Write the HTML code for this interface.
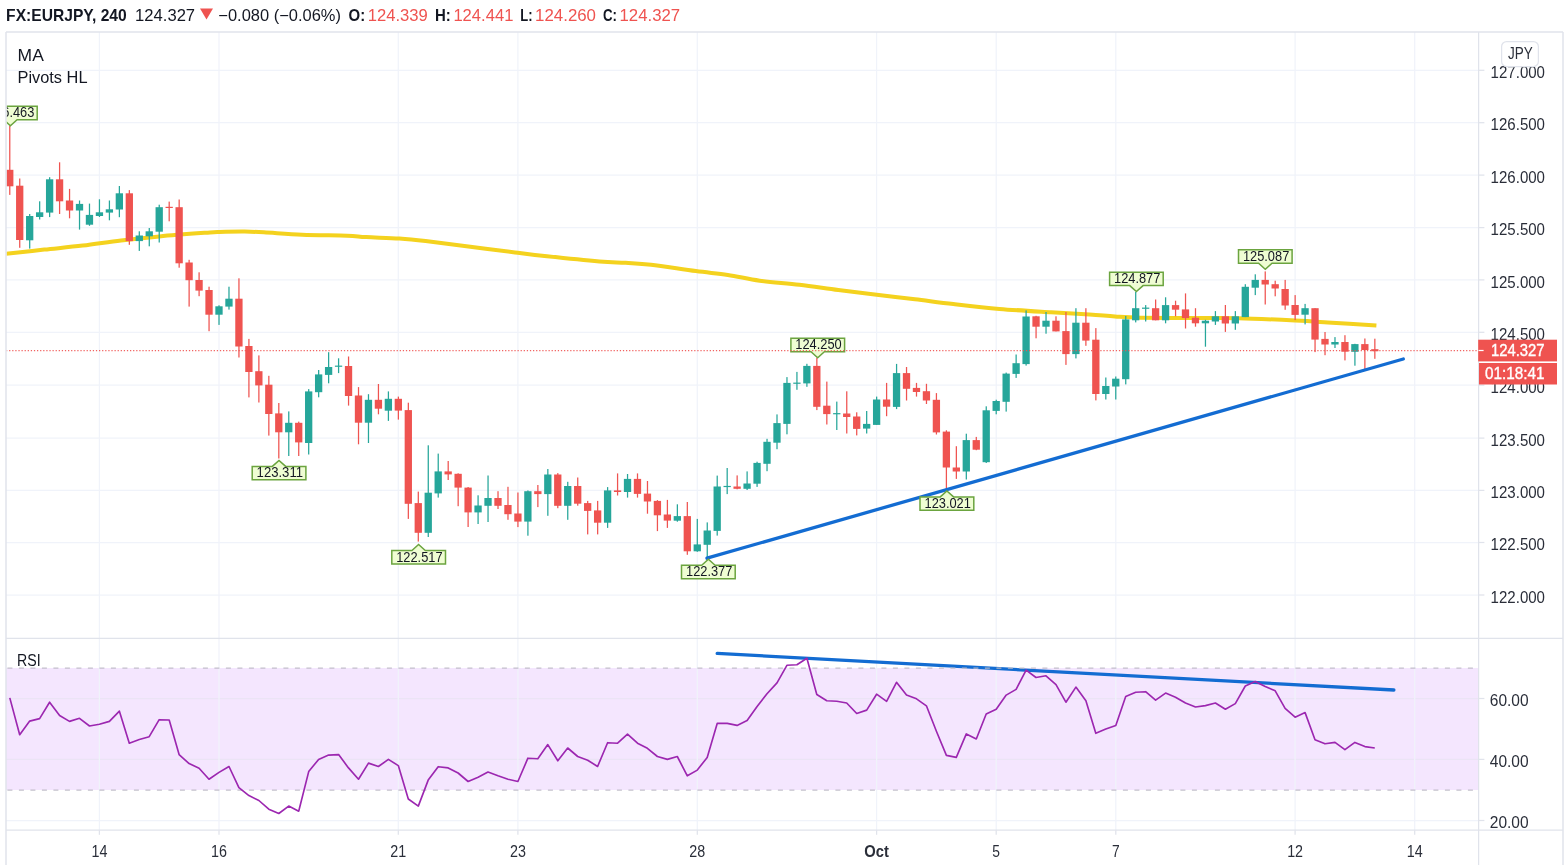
<!DOCTYPE html><html><head><meta charset="utf-8"><title>FX:EURJPY</title><style>html,body{margin:0;padding:0;background:#fff;width:1565px;height:865px;overflow:hidden;}body{position:relative;font-family:"Liberation Sans",sans-serif;}</style></head><body><svg width="1565" height="865" viewBox="0 0 1565 865" style="position:absolute;left:0;top:0;will-change:transform">
<defs><clipPath id="mp"><rect x="6.5" y="32.5" width="1471.6" height="605.4"/></clipPath><clipPath id="rp"><rect x="6.5" y="639" width="1471.6" height="191"/></clipPath></defs>
<rect x="6" y="668" width="1472.6" height="122" fill="#f4e6fe"/>
<line x1="6" y1="70.3" x2="1478.6" y2="70.3" stroke="#f0f3fa" stroke-width="1.25"/>
<line x1="6" y1="122.7" x2="1478.6" y2="122.7" stroke="#f0f3fa" stroke-width="1.25"/>
<line x1="6" y1="175.1" x2="1478.6" y2="175.1" stroke="#f0f3fa" stroke-width="1.25"/>
<line x1="6" y1="227.6" x2="1478.6" y2="227.6" stroke="#f0f3fa" stroke-width="1.25"/>
<line x1="6" y1="279.9" x2="1478.6" y2="279.9" stroke="#f0f3fa" stroke-width="1.25"/>
<line x1="6" y1="332.3" x2="1478.6" y2="332.3" stroke="#f0f3fa" stroke-width="1.25"/>
<line x1="6" y1="385.2" x2="1478.6" y2="385.2" stroke="#f0f3fa" stroke-width="1.25"/>
<line x1="6" y1="438.1" x2="1478.6" y2="438.1" stroke="#f0f3fa" stroke-width="1.25"/>
<line x1="6" y1="490.4" x2="1478.6" y2="490.4" stroke="#f0f3fa" stroke-width="1.25"/>
<line x1="6" y1="542.5" x2="1478.6" y2="542.5" stroke="#f0f3fa" stroke-width="1.25"/>
<line x1="6" y1="595.0" x2="1478.6" y2="595.0" stroke="#f0f3fa" stroke-width="1.25"/>
<line x1="6" y1="698.5" x2="1478.6" y2="698.5" stroke="#ebe4f5" stroke-width="1.25"/>
<line x1="6" y1="759.4" x2="1478.6" y2="759.4" stroke="#ebe4f5" stroke-width="1.25"/>
<line x1="6" y1="820.5" x2="1478.6" y2="820.5" stroke="#f0f3fa" stroke-width="1.25"/>
<line x1="99.4" y1="32" x2="99.4" y2="830.2" stroke="#f0f3fa" stroke-width="1.25"/>
<line x1="99.4" y1="830.2" x2="99.4" y2="834.8" stroke="#e0e3eb" stroke-width="1.25"/>
<line x1="219.0" y1="32" x2="219.0" y2="830.2" stroke="#f0f3fa" stroke-width="1.25"/>
<line x1="219.0" y1="830.2" x2="219.0" y2="834.8" stroke="#e0e3eb" stroke-width="1.25"/>
<line x1="398.3" y1="32" x2="398.3" y2="830.2" stroke="#f0f3fa" stroke-width="1.25"/>
<line x1="398.3" y1="830.2" x2="398.3" y2="834.8" stroke="#e0e3eb" stroke-width="1.25"/>
<line x1="517.9" y1="32" x2="517.9" y2="830.2" stroke="#f0f3fa" stroke-width="1.25"/>
<line x1="517.9" y1="830.2" x2="517.9" y2="834.8" stroke="#e0e3eb" stroke-width="1.25"/>
<line x1="697.3" y1="32" x2="697.3" y2="830.2" stroke="#f0f3fa" stroke-width="1.25"/>
<line x1="697.3" y1="830.2" x2="697.3" y2="834.8" stroke="#e0e3eb" stroke-width="1.25"/>
<line x1="876.6" y1="32" x2="876.6" y2="830.2" stroke="#f0f3fa" stroke-width="1.25"/>
<line x1="876.6" y1="830.2" x2="876.6" y2="834.8" stroke="#e0e3eb" stroke-width="1.25"/>
<line x1="996.2" y1="32" x2="996.2" y2="830.2" stroke="#f0f3fa" stroke-width="1.25"/>
<line x1="996.2" y1="830.2" x2="996.2" y2="834.8" stroke="#e0e3eb" stroke-width="1.25"/>
<line x1="1115.8" y1="32" x2="1115.8" y2="830.2" stroke="#f0f3fa" stroke-width="1.25"/>
<line x1="1115.8" y1="830.2" x2="1115.8" y2="834.8" stroke="#e0e3eb" stroke-width="1.25"/>
<line x1="1295.1" y1="32" x2="1295.1" y2="830.2" stroke="#f0f3fa" stroke-width="1.25"/>
<line x1="1295.1" y1="830.2" x2="1295.1" y2="834.8" stroke="#e0e3eb" stroke-width="1.25"/>
<line x1="1414.7" y1="32" x2="1414.7" y2="830.2" stroke="#f0f3fa" stroke-width="1.25"/>
<line x1="1414.7" y1="830.2" x2="1414.7" y2="834.8" stroke="#e0e3eb" stroke-width="1.25"/>
<g clip-path="url(#mp)">
<path d="M6.00,253.80 C6.43,253.75 2.22,254.20 8.60,253.50 C14.98,252.80 31.95,250.92 44.30,249.60 C56.65,248.28 69.92,247.13 82.70,245.60 C95.48,244.07 108.22,241.93 121.00,240.40 C133.78,238.87 145.33,237.67 159.40,236.40 C173.47,235.13 195.43,233.53 205.40,232.80 C215.37,232.07 212.65,232.20 219.20,232.00 C225.75,231.80 237.25,231.55 244.70,231.60 C252.15,231.65 254.32,231.77 263.90,232.30 C273.48,232.83 288.35,234.23 302.20,234.80 C316.05,235.37 336.35,235.32 347.00,235.70 C357.65,236.08 357.37,236.63 366.10,237.10 C374.83,237.57 389.48,237.85 399.40,238.50 C409.32,239.15 413.78,239.63 425.60,241.00 C437.42,242.37 455.40,244.78 470.30,246.70 C485.20,248.62 502.22,250.90 515.00,252.50 C527.78,254.10 532.93,254.82 547.00,256.30 C561.07,257.78 586.30,260.32 599.40,261.40 C612.50,262.48 616.98,262.25 625.60,262.80 C634.22,263.35 639.40,263.32 651.10,264.70 C662.80,266.08 683.02,269.40 695.80,271.10 C708.58,272.80 717.15,273.30 727.80,274.90 C738.45,276.50 747.77,279.05 759.70,280.70 C771.63,282.35 786.30,283.23 799.40,284.80 C812.50,286.37 825.42,288.43 838.30,290.10 C851.18,291.77 863.92,293.27 876.70,294.80 C889.48,296.33 902.22,297.75 915.00,299.30 C927.78,300.85 939.33,302.50 953.40,304.10 C967.47,305.70 983.12,307.53 999.40,308.90 C1015.68,310.27 1036.08,311.38 1051.10,312.30 C1066.12,313.22 1078.85,313.70 1089.50,314.40 C1100.15,315.10 1106.48,315.95 1115.00,316.50 C1123.52,317.05 1126.53,317.45 1140.60,317.70 C1154.67,317.95 1183.12,317.92 1199.40,318.00 C1215.68,318.08 1222.37,317.78 1238.30,318.20 C1254.23,318.62 1280.08,319.80 1295.00,320.50 C1309.92,321.20 1314.23,321.55 1327.80,322.40 C1341.37,323.25 1368.30,325.07 1376.40,325.60" fill="none" stroke="#f4d21e" stroke-width="4" stroke-linejoin="round" stroke-linecap="butt"/>
<rect x="9.15" y="125.6" width="1.25" height="69.3" fill="#ef5350"/>
<rect x="6.10" y="169.8" width="7.3" height="16.5" fill="#ef5350"/>
<rect x="19.11" y="178.5" width="1.25" height="69.3" fill="#ef5350"/>
<rect x="16.06" y="185.7" width="7.3" height="54.3" fill="#ef5350"/>
<rect x="29.08" y="214.0" width="1.25" height="34.6" fill="#26a69a"/>
<rect x="26.03" y="216.0" width="7.3" height="24.3" fill="#26a69a"/>
<rect x="39.04" y="201.3" width="1.25" height="18.2" fill="#26a69a"/>
<rect x="35.99" y="212.3" width="7.3" height="4.7" fill="#26a69a"/>
<rect x="49.01" y="177.2" width="1.25" height="39.9" fill="#26a69a"/>
<rect x="45.96" y="179.3" width="7.3" height="33.3" fill="#26a69a"/>
<rect x="58.97" y="162.3" width="1.25" height="51.7" fill="#ef5350"/>
<rect x="55.92" y="179.3" width="7.3" height="22.0" fill="#ef5350"/>
<rect x="68.93" y="188.9" width="1.25" height="29.4" fill="#ef5350"/>
<rect x="65.88" y="200.5" width="7.3" height="10.0" fill="#ef5350"/>
<rect x="78.90" y="200.5" width="1.25" height="29.1" fill="#26a69a"/>
<rect x="75.85" y="203.9" width="7.3" height="6.6" fill="#26a69a"/>
<rect x="88.86" y="203.6" width="1.25" height="22.2" fill="#26a69a"/>
<rect x="85.81" y="214.9" width="7.3" height="9.8" fill="#26a69a"/>
<rect x="98.83" y="199.3" width="1.25" height="17.7" fill="#26a69a"/>
<rect x="95.78" y="212.3" width="7.3" height="3.7" fill="#26a69a"/>
<rect x="108.79" y="200.5" width="1.25" height="19.8" fill="#26a69a"/>
<rect x="105.74" y="209.3" width="7.3" height="3.3" fill="#26a69a"/>
<rect x="118.75" y="186.0" width="1.25" height="31.2" fill="#26a69a"/>
<rect x="115.70" y="193.3" width="7.3" height="16.2" fill="#26a69a"/>
<rect x="128.72" y="190.1" width="1.25" height="54.7" fill="#ef5350"/>
<rect x="125.67" y="193.3" width="7.3" height="47.8" fill="#ef5350"/>
<rect x="138.68" y="231.3" width="1.25" height="19.6" fill="#26a69a"/>
<rect x="135.63" y="235.5" width="7.3" height="5.6" fill="#26a69a"/>
<rect x="148.65" y="228.0" width="1.25" height="18.3" fill="#26a69a"/>
<rect x="145.60" y="231.3" width="7.3" height="5.0" fill="#26a69a"/>
<rect x="158.61" y="204.7" width="1.25" height="37.8" fill="#26a69a"/>
<rect x="155.56" y="207.2" width="7.3" height="24.5" fill="#26a69a"/>
<rect x="168.57" y="201.6" width="1.25" height="19.7" fill="#ef5350"/>
<rect x="165.52" y="206.8" width="7.3" height="1.2" fill="#ef5350"/>
<rect x="178.54" y="199.5" width="1.25" height="68.2" fill="#ef5350"/>
<rect x="175.49" y="207.2" width="7.3" height="56.1" fill="#ef5350"/>
<rect x="188.50" y="259.8" width="1.25" height="46.8" fill="#ef5350"/>
<rect x="185.45" y="262.5" width="7.3" height="17.7" fill="#ef5350"/>
<rect x="198.47" y="272.3" width="1.25" height="23.9" fill="#ef5350"/>
<rect x="195.42" y="280.0" width="7.3" height="10.6" fill="#ef5350"/>
<rect x="208.43" y="286.7" width="1.25" height="44.5" fill="#ef5350"/>
<rect x="205.38" y="290.0" width="7.3" height="24.7" fill="#ef5350"/>
<rect x="218.39" y="305.3" width="1.25" height="19.6" fill="#26a69a"/>
<rect x="215.34" y="306.3" width="7.3" height="8.4" fill="#26a69a"/>
<rect x="228.36" y="286.7" width="1.25" height="22.9" fill="#26a69a"/>
<rect x="225.31" y="298.7" width="7.3" height="7.9" fill="#26a69a"/>
<rect x="238.32" y="278.3" width="1.25" height="79.2" fill="#ef5350"/>
<rect x="235.27" y="298.7" width="7.3" height="47.8" fill="#ef5350"/>
<rect x="248.29" y="338.9" width="1.25" height="58.5" fill="#ef5350"/>
<rect x="245.24" y="346.0" width="7.3" height="26.0" fill="#ef5350"/>
<rect x="258.25" y="355.4" width="1.25" height="47.1" fill="#ef5350"/>
<rect x="255.20" y="371.2" width="7.3" height="14.2" fill="#ef5350"/>
<rect x="268.21" y="375.8" width="1.25" height="59.8" fill="#ef5350"/>
<rect x="265.16" y="384.7" width="7.3" height="29.3" fill="#ef5350"/>
<rect x="278.18" y="403.0" width="1.25" height="55.5" fill="#ef5350"/>
<rect x="275.13" y="413.4" width="7.3" height="18.9" fill="#ef5350"/>
<rect x="288.14" y="411.4" width="1.25" height="44.6" fill="#26a69a"/>
<rect x="285.09" y="422.8" width="7.3" height="9.5" fill="#26a69a"/>
<rect x="298.11" y="421.6" width="1.25" height="34.4" fill="#ef5350"/>
<rect x="295.06" y="422.8" width="7.3" height="19.6" fill="#ef5350"/>
<rect x="308.07" y="389.1" width="1.25" height="65.4" fill="#26a69a"/>
<rect x="305.02" y="391.4" width="7.3" height="51.6" fill="#26a69a"/>
<rect x="318.03" y="370.0" width="1.25" height="27.3" fill="#26a69a"/>
<rect x="314.98" y="374.4" width="7.3" height="17.8" fill="#26a69a"/>
<rect x="328.00" y="352.2" width="1.25" height="31.1" fill="#26a69a"/>
<rect x="324.95" y="367.0" width="7.3" height="7.9" fill="#26a69a"/>
<rect x="337.96" y="358.3" width="1.25" height="14.8" fill="#26a69a"/>
<rect x="334.91" y="365.6" width="7.3" height="1.2" fill="#26a69a"/>
<rect x="347.93" y="356.5" width="1.25" height="49.1" fill="#ef5350"/>
<rect x="344.88" y="366.0" width="7.3" height="30.0" fill="#ef5350"/>
<rect x="357.89" y="387.1" width="1.25" height="57.2" fill="#ef5350"/>
<rect x="354.84" y="395.5" width="7.3" height="27.2" fill="#ef5350"/>
<rect x="367.85" y="394.2" width="1.25" height="48.8" fill="#26a69a"/>
<rect x="364.80" y="399.8" width="7.3" height="22.9" fill="#26a69a"/>
<rect x="377.82" y="384.0" width="1.25" height="30.3" fill="#ef5350"/>
<rect x="374.77" y="399.8" width="7.3" height="8.9" fill="#ef5350"/>
<rect x="387.78" y="391.4" width="1.25" height="29.5" fill="#26a69a"/>
<rect x="384.73" y="398.8" width="7.3" height="11.9" fill="#26a69a"/>
<rect x="397.75" y="396.6" width="1.25" height="23.0" fill="#ef5350"/>
<rect x="394.70" y="398.8" width="7.3" height="11.8" fill="#ef5350"/>
<rect x="407.71" y="402.7" width="1.25" height="116.2" fill="#ef5350"/>
<rect x="404.66" y="410.1" width="7.3" height="93.7" fill="#ef5350"/>
<rect x="417.67" y="491.6" width="1.25" height="50.0" fill="#ef5350"/>
<rect x="414.62" y="503.1" width="7.3" height="29.7" fill="#ef5350"/>
<rect x="427.64" y="445.3" width="1.25" height="91.7" fill="#26a69a"/>
<rect x="424.59" y="492.7" width="7.3" height="40.1" fill="#26a69a"/>
<rect x="437.60" y="453.6" width="1.25" height="44.0" fill="#26a69a"/>
<rect x="434.55" y="471.4" width="7.3" height="22.0" fill="#26a69a"/>
<rect x="447.57" y="461.0" width="1.25" height="19.0" fill="#ef5350"/>
<rect x="444.52" y="471.4" width="7.3" height="3.0" fill="#ef5350"/>
<rect x="457.53" y="473.3" width="1.25" height="32.9" fill="#ef5350"/>
<rect x="454.48" y="473.8" width="7.3" height="13.8" fill="#ef5350"/>
<rect x="467.49" y="487.0" width="1.25" height="40.0" fill="#ef5350"/>
<rect x="464.44" y="487.6" width="7.3" height="24.8" fill="#ef5350"/>
<rect x="477.46" y="495.3" width="1.25" height="28.7" fill="#26a69a"/>
<rect x="474.41" y="505.5" width="7.3" height="6.9" fill="#26a69a"/>
<rect x="487.42" y="475.5" width="1.25" height="46.5" fill="#26a69a"/>
<rect x="484.37" y="498.0" width="7.3" height="7.8" fill="#26a69a"/>
<rect x="497.39" y="491.2" width="1.25" height="17.8" fill="#ef5350"/>
<rect x="494.34" y="498.0" width="7.3" height="7.8" fill="#ef5350"/>
<rect x="507.35" y="486.8" width="1.25" height="33.0" fill="#ef5350"/>
<rect x="504.30" y="505.0" width="7.3" height="9.2" fill="#ef5350"/>
<rect x="517.31" y="492.5" width="1.25" height="34.6" fill="#ef5350"/>
<rect x="514.26" y="513.5" width="7.3" height="8.1" fill="#ef5350"/>
<rect x="527.28" y="490.4" width="1.25" height="45.3" fill="#26a69a"/>
<rect x="524.23" y="491.2" width="7.3" height="30.4" fill="#26a69a"/>
<rect x="537.24" y="485.0" width="1.25" height="22.1" fill="#ef5350"/>
<rect x="534.19" y="491.2" width="7.3" height="2.9" fill="#ef5350"/>
<rect x="547.21" y="469.0" width="1.25" height="46.8" fill="#26a69a"/>
<rect x="544.16" y="474.5" width="7.3" height="19.6" fill="#26a69a"/>
<rect x="557.17" y="473.1" width="1.25" height="35.1" fill="#ef5350"/>
<rect x="554.12" y="474.5" width="7.3" height="31.3" fill="#ef5350"/>
<rect x="567.13" y="481.8" width="1.25" height="38.0" fill="#26a69a"/>
<rect x="564.08" y="486.0" width="7.3" height="19.8" fill="#26a69a"/>
<rect x="577.10" y="477.5" width="1.25" height="28.2" fill="#ef5350"/>
<rect x="574.05" y="486.0" width="7.3" height="17.7" fill="#ef5350"/>
<rect x="587.06" y="500.9" width="1.25" height="33.5" fill="#ef5350"/>
<rect x="584.01" y="503.1" width="7.3" height="7.8" fill="#ef5350"/>
<rect x="597.03" y="500.9" width="1.25" height="33.5" fill="#ef5350"/>
<rect x="593.98" y="510.4" width="7.3" height="12.3" fill="#ef5350"/>
<rect x="606.99" y="487.1" width="1.25" height="40.8" fill="#26a69a"/>
<rect x="603.94" y="490.4" width="7.3" height="32.3" fill="#26a69a"/>
<rect x="616.95" y="473.4" width="1.25" height="22.1" fill="#ef5350"/>
<rect x="613.90" y="490.4" width="7.3" height="1.6" fill="#ef5350"/>
<rect x="626.92" y="474.0" width="1.25" height="23.6" fill="#26a69a"/>
<rect x="623.87" y="478.9" width="7.3" height="13.1" fill="#26a69a"/>
<rect x="636.88" y="473.4" width="1.25" height="24.2" fill="#ef5350"/>
<rect x="633.83" y="478.9" width="7.3" height="15.0" fill="#ef5350"/>
<rect x="646.85" y="481.0" width="1.25" height="32.7" fill="#ef5350"/>
<rect x="643.80" y="493.6" width="7.3" height="7.9" fill="#ef5350"/>
<rect x="656.81" y="500.1" width="1.25" height="31.0" fill="#ef5350"/>
<rect x="653.76" y="500.9" width="7.3" height="14.4" fill="#ef5350"/>
<rect x="666.77" y="499.9" width="1.25" height="28.0" fill="#ef5350"/>
<rect x="663.72" y="514.5" width="7.3" height="6.1" fill="#ef5350"/>
<rect x="676.74" y="504.3" width="1.25" height="17.4" fill="#26a69a"/>
<rect x="673.69" y="516.1" width="7.3" height="4.6" fill="#26a69a"/>
<rect x="686.70" y="502.0" width="1.25" height="52.8" fill="#ef5350"/>
<rect x="683.65" y="516.1" width="7.3" height="35.2" fill="#ef5350"/>
<rect x="696.67" y="518.9" width="1.25" height="32.9" fill="#26a69a"/>
<rect x="693.62" y="544.4" width="7.3" height="6.9" fill="#26a69a"/>
<rect x="706.63" y="522.4" width="1.25" height="36.6" fill="#26a69a"/>
<rect x="703.58" y="530.5" width="7.3" height="14.3" fill="#26a69a"/>
<rect x="716.59" y="475.6" width="1.25" height="60.0" fill="#26a69a"/>
<rect x="713.54" y="486.5" width="7.3" height="44.4" fill="#26a69a"/>
<rect x="726.56" y="468.0" width="1.25" height="26.1" fill="#26a69a"/>
<rect x="723.51" y="485.9" width="7.3" height="1.2" fill="#26a69a"/>
<rect x="736.52" y="475.4" width="1.25" height="13.9" fill="#ef5350"/>
<rect x="733.47" y="486.5" width="7.3" height="2.3" fill="#ef5350"/>
<rect x="746.49" y="471.4" width="1.25" height="18.6" fill="#26a69a"/>
<rect x="743.44" y="483.5" width="7.3" height="5.3" fill="#26a69a"/>
<rect x="756.45" y="461.7" width="1.25" height="25.2" fill="#26a69a"/>
<rect x="753.40" y="462.9" width="7.3" height="20.8" fill="#26a69a"/>
<rect x="766.41" y="438.8" width="1.25" height="32.4" fill="#26a69a"/>
<rect x="763.36" y="441.8" width="7.3" height="22.0" fill="#26a69a"/>
<rect x="776.38" y="414.4" width="1.25" height="34.8" fill="#26a69a"/>
<rect x="773.33" y="423.1" width="7.3" height="19.6" fill="#26a69a"/>
<rect x="786.34" y="377.1" width="1.25" height="57.2" fill="#26a69a"/>
<rect x="783.29" y="382.9" width="7.3" height="41.0" fill="#26a69a"/>
<rect x="796.31" y="371.9" width="1.25" height="17.9" fill="#26a69a"/>
<rect x="793.26" y="382.6" width="7.3" height="1.2" fill="#26a69a"/>
<rect x="806.27" y="363.8" width="1.25" height="23.0" fill="#26a69a"/>
<rect x="803.22" y="365.9" width="7.3" height="17.5" fill="#26a69a"/>
<rect x="816.23" y="357.7" width="1.25" height="52.4" fill="#ef5350"/>
<rect x="813.18" y="365.9" width="7.3" height="40.9" fill="#ef5350"/>
<rect x="826.20" y="381.6" width="1.25" height="42.9" fill="#ef5350"/>
<rect x="823.15" y="405.7" width="7.3" height="8.4" fill="#ef5350"/>
<rect x="836.16" y="401.6" width="1.25" height="28.4" fill="#26a69a"/>
<rect x="833.11" y="413.1" width="7.3" height="1.2" fill="#26a69a"/>
<rect x="846.13" y="391.3" width="1.25" height="42.2" fill="#ef5350"/>
<rect x="843.08" y="413.5" width="7.3" height="3.5" fill="#ef5350"/>
<rect x="856.09" y="412.3" width="1.25" height="23.1" fill="#ef5350"/>
<rect x="853.04" y="416.5" width="7.3" height="12.4" fill="#ef5350"/>
<rect x="866.05" y="411.0" width="1.25" height="22.5" fill="#26a69a"/>
<rect x="863.00" y="423.9" width="7.3" height="4.7" fill="#26a69a"/>
<rect x="876.02" y="396.6" width="1.25" height="28.3" fill="#26a69a"/>
<rect x="872.97" y="399.5" width="7.3" height="25.4" fill="#26a69a"/>
<rect x="885.98" y="382.9" width="1.25" height="33.3" fill="#ef5350"/>
<rect x="882.93" y="399.5" width="7.3" height="7.2" fill="#ef5350"/>
<rect x="895.95" y="363.9" width="1.25" height="45.2" fill="#26a69a"/>
<rect x="892.90" y="373.1" width="7.3" height="33.8" fill="#26a69a"/>
<rect x="905.91" y="367.0" width="1.25" height="33.5" fill="#ef5350"/>
<rect x="902.86" y="373.1" width="7.3" height="15.7" fill="#ef5350"/>
<rect x="915.87" y="382.9" width="1.25" height="13.7" fill="#ef5350"/>
<rect x="912.82" y="387.9" width="7.3" height="4.1" fill="#ef5350"/>
<rect x="925.84" y="383.8" width="1.25" height="20.2" fill="#ef5350"/>
<rect x="922.79" y="391.2" width="7.3" height="9.3" fill="#ef5350"/>
<rect x="935.80" y="393.1" width="1.25" height="41.4" fill="#ef5350"/>
<rect x="932.75" y="399.8" width="7.3" height="32.6" fill="#ef5350"/>
<rect x="945.77" y="430.3" width="1.25" height="58.7" fill="#ef5350"/>
<rect x="942.72" y="431.6" width="7.3" height="35.9" fill="#ef5350"/>
<rect x="955.73" y="446.2" width="1.25" height="32.7" fill="#ef5350"/>
<rect x="952.68" y="467.5" width="7.3" height="4.0" fill="#ef5350"/>
<rect x="965.69" y="433.7" width="1.25" height="45.8" fill="#26a69a"/>
<rect x="962.64" y="440.1" width="7.3" height="31.4" fill="#26a69a"/>
<rect x="975.66" y="436.9" width="1.25" height="13.3" fill="#ef5350"/>
<rect x="972.61" y="440.1" width="7.3" height="9.6" fill="#ef5350"/>
<rect x="985.62" y="406.3" width="1.25" height="56.7" fill="#26a69a"/>
<rect x="982.57" y="410.3" width="7.3" height="51.9" fill="#26a69a"/>
<rect x="995.59" y="399.7" width="1.25" height="14.6" fill="#26a69a"/>
<rect x="992.54" y="401.0" width="7.3" height="9.9" fill="#26a69a"/>
<rect x="1005.55" y="372.6" width="1.25" height="39.0" fill="#26a69a"/>
<rect x="1002.50" y="373.6" width="7.3" height="28.2" fill="#26a69a"/>
<rect x="1015.51" y="354.5" width="1.25" height="23.4" fill="#26a69a"/>
<rect x="1012.46" y="363.2" width="7.3" height="10.7" fill="#26a69a"/>
<rect x="1025.48" y="310.4" width="1.25" height="55.2" fill="#26a69a"/>
<rect x="1022.43" y="316.5" width="7.3" height="47.6" fill="#26a69a"/>
<rect x="1035.44" y="315.8" width="1.25" height="22.5" fill="#ef5350"/>
<rect x="1032.39" y="316.3" width="7.3" height="10.4" fill="#ef5350"/>
<rect x="1045.41" y="312.0" width="1.25" height="21.7" fill="#26a69a"/>
<rect x="1042.36" y="320.7" width="7.3" height="6.0" fill="#26a69a"/>
<rect x="1055.37" y="316.3" width="1.25" height="15.1" fill="#ef5350"/>
<rect x="1052.32" y="320.7" width="7.3" height="10.7" fill="#ef5350"/>
<rect x="1065.33" y="312.0" width="1.25" height="52.9" fill="#ef5350"/>
<rect x="1062.28" y="331.1" width="7.3" height="23.0" fill="#ef5350"/>
<rect x="1075.30" y="308.2" width="1.25" height="50.2" fill="#26a69a"/>
<rect x="1072.25" y="322.7" width="7.3" height="31.4" fill="#26a69a"/>
<rect x="1085.26" y="308.2" width="1.25" height="37.6" fill="#ef5350"/>
<rect x="1082.21" y="322.7" width="7.3" height="17.9" fill="#ef5350"/>
<rect x="1095.23" y="328.1" width="1.25" height="72.3" fill="#ef5350"/>
<rect x="1092.18" y="339.7" width="7.3" height="54.3" fill="#ef5350"/>
<rect x="1105.19" y="377.5" width="1.25" height="22.0" fill="#26a69a"/>
<rect x="1102.14" y="386.0" width="7.3" height="8.0" fill="#26a69a"/>
<rect x="1115.15" y="376.5" width="1.25" height="23.0" fill="#26a69a"/>
<rect x="1112.10" y="378.7" width="7.3" height="7.8" fill="#26a69a"/>
<rect x="1125.12" y="316.0" width="1.25" height="68.4" fill="#26a69a"/>
<rect x="1122.07" y="319.4" width="7.3" height="59.8" fill="#26a69a"/>
<rect x="1135.08" y="292.0" width="1.25" height="30.4" fill="#26a69a"/>
<rect x="1132.03" y="308.2" width="7.3" height="12.1" fill="#26a69a"/>
<rect x="1145.05" y="305.1" width="1.25" height="16.4" fill="#26a69a"/>
<rect x="1142.00" y="307.6" width="7.3" height="1.2" fill="#26a69a"/>
<rect x="1155.01" y="299.5" width="1.25" height="20.8" fill="#ef5350"/>
<rect x="1151.96" y="308.2" width="7.3" height="12.1" fill="#ef5350"/>
<rect x="1164.97" y="297.3" width="1.25" height="26.0" fill="#26a69a"/>
<rect x="1161.92" y="305.1" width="7.3" height="15.2" fill="#26a69a"/>
<rect x="1174.94" y="300.7" width="1.25" height="15.6" fill="#ef5350"/>
<rect x="1171.89" y="305.1" width="7.3" height="4.6" fill="#ef5350"/>
<rect x="1184.90" y="293.4" width="1.25" height="35.1" fill="#ef5350"/>
<rect x="1181.85" y="309.4" width="7.3" height="8.7" fill="#ef5350"/>
<rect x="1194.87" y="308.2" width="1.25" height="18.5" fill="#ef5350"/>
<rect x="1191.82" y="317.7" width="7.3" height="5.6" fill="#ef5350"/>
<rect x="1204.83" y="319.8" width="1.25" height="26.9" fill="#26a69a"/>
<rect x="1201.78" y="320.7" width="7.3" height="2.6" fill="#26a69a"/>
<rect x="1214.79" y="311.1" width="1.25" height="13.8" fill="#26a69a"/>
<rect x="1211.74" y="316.3" width="7.3" height="5.2" fill="#26a69a"/>
<rect x="1224.76" y="305.0" width="1.25" height="26.9" fill="#ef5350"/>
<rect x="1221.71" y="316.3" width="7.3" height="7.2" fill="#ef5350"/>
<rect x="1234.72" y="311.1" width="1.25" height="18.7" fill="#26a69a"/>
<rect x="1231.67" y="316.3" width="7.3" height="7.2" fill="#26a69a"/>
<rect x="1244.69" y="284.2" width="1.25" height="32.9" fill="#26a69a"/>
<rect x="1241.64" y="286.8" width="7.3" height="30.3" fill="#26a69a"/>
<rect x="1254.65" y="274.3" width="1.25" height="20.8" fill="#26a69a"/>
<rect x="1251.60" y="279.9" width="7.3" height="7.8" fill="#26a69a"/>
<rect x="1264.61" y="271.4" width="1.25" height="33.1" fill="#ef5350"/>
<rect x="1261.56" y="279.9" width="7.3" height="4.6" fill="#ef5350"/>
<rect x="1274.58" y="280.7" width="1.25" height="15.6" fill="#ef5350"/>
<rect x="1271.53" y="284.2" width="7.3" height="4.3" fill="#ef5350"/>
<rect x="1284.54" y="279.9" width="1.25" height="29.9" fill="#ef5350"/>
<rect x="1281.49" y="289.0" width="7.3" height="16.5" fill="#ef5350"/>
<rect x="1294.51" y="295.1" width="1.25" height="25.0" fill="#ef5350"/>
<rect x="1291.46" y="305.0" width="7.3" height="9.9" fill="#ef5350"/>
<rect x="1304.47" y="303.9" width="1.25" height="20.5" fill="#26a69a"/>
<rect x="1301.42" y="308.2" width="7.3" height="6.5" fill="#26a69a"/>
<rect x="1314.43" y="308.2" width="1.25" height="43.9" fill="#ef5350"/>
<rect x="1311.38" y="308.2" width="7.3" height="31.4" fill="#ef5350"/>
<rect x="1324.40" y="332.0" width="1.25" height="23.2" fill="#ef5350"/>
<rect x="1321.35" y="338.9" width="7.3" height="5.6" fill="#ef5350"/>
<rect x="1334.36" y="337.1" width="1.25" height="10.9" fill="#26a69a"/>
<rect x="1331.31" y="342.0" width="7.3" height="2.5" fill="#26a69a"/>
<rect x="1344.33" y="335.2" width="1.25" height="25.2" fill="#ef5350"/>
<rect x="1341.28" y="342.0" width="7.3" height="9.7" fill="#ef5350"/>
<rect x="1354.29" y="343.8" width="1.25" height="21.9" fill="#26a69a"/>
<rect x="1351.24" y="344.1" width="7.3" height="7.7" fill="#26a69a"/>
<rect x="1364.25" y="338.5" width="1.25" height="31.0" fill="#ef5350"/>
<rect x="1361.20" y="344.1" width="7.3" height="5.9" fill="#ef5350"/>
<rect x="1374.22" y="338.7" width="1.25" height="20.1" fill="#ef5350"/>
<rect x="1371.17" y="349.2" width="7.3" height="2.0" fill="#ef5350"/>
<line x1="707" y1="558.2" x2="1403.3" y2="359.0" stroke="#136cd2" stroke-width="3.3" stroke-linecap="round"/>
<path d="M-16.5,106.3 H37.2 V119.7 H17.1 L10.4,125.7 L3.7,119.7 H-16.5 Z" fill="#effdd3" stroke="#6ba43f" stroke-width="1.5" stroke-linejoin="miter"/>
<text x="11.2" y="117.3" text-anchor="middle" font-family="Liberation Sans" font-size="15.3" fill="#131722" textLength="46.4" lengthAdjust="spacingAndGlyphs">126.463</text>
<path d="M252.2,466.4 H272.3 L279.0,460.4 L285.7,466.4 H305.9 V479.8 H252.2 Z" fill="#effdd3" stroke="#6ba43f" stroke-width="1.5" stroke-linejoin="miter"/>
<text x="279.8" y="477.4" text-anchor="middle" font-family="Liberation Sans" font-size="15.3" fill="#131722" textLength="46.4" lengthAdjust="spacingAndGlyphs">123.311</text>
<path d="M391.8,550.5 H411.9 L418.6,544.5 L425.3,550.5 H445.5 V563.9 H391.8 Z" fill="#effdd3" stroke="#6ba43f" stroke-width="1.5" stroke-linejoin="miter"/>
<text x="419.4" y="561.5" text-anchor="middle" font-family="Liberation Sans" font-size="15.3" fill="#131722" textLength="46.4" lengthAdjust="spacingAndGlyphs">122.517</text>
<path d="M681.5,565.3 H701.7 L708.4,559.3 L715.1,565.3 H735.2 V578.7 H681.5 Z" fill="#effdd3" stroke="#6ba43f" stroke-width="1.5" stroke-linejoin="miter"/>
<text x="709.2" y="576.3" text-anchor="middle" font-family="Liberation Sans" font-size="15.3" fill="#131722" textLength="46.4" lengthAdjust="spacingAndGlyphs">122.377</text>
<path d="M790.9,338.3 H844.6 V351.7 H824.4 L817.7,357.7 L811.0,351.7 H790.9 Z" fill="#effdd3" stroke="#6ba43f" stroke-width="1.5" stroke-linejoin="miter"/>
<text x="818.5" y="349.3" text-anchor="middle" font-family="Liberation Sans" font-size="15.3" fill="#131722" textLength="46.4" lengthAdjust="spacingAndGlyphs">124.250</text>
<path d="M920.0,496.9 H940.2 L946.9,490.9 L953.6,496.9 H973.8 V510.3 H920.0 Z" fill="#effdd3" stroke="#6ba43f" stroke-width="1.5" stroke-linejoin="miter"/>
<text x="947.7" y="507.9" text-anchor="middle" font-family="Liberation Sans" font-size="15.3" fill="#131722" textLength="46.4" lengthAdjust="spacingAndGlyphs">123.021</text>
<path d="M1109.6,272.2 H1163.2 V285.6 H1143.1 L1136.4,291.6 L1129.7,285.6 H1109.6 Z" fill="#effdd3" stroke="#6ba43f" stroke-width="1.5" stroke-linejoin="miter"/>
<text x="1137.2" y="283.2" text-anchor="middle" font-family="Liberation Sans" font-size="15.3" fill="#131722" textLength="46.4" lengthAdjust="spacingAndGlyphs">124.877</text>
<path d="M1238.5,249.8 H1292.1 V263.2 H1272.0 L1265.3,269.2 L1258.6,263.2 H1238.5 Z" fill="#effdd3" stroke="#6ba43f" stroke-width="1.5" stroke-linejoin="miter"/>
<text x="1266.1" y="260.8" text-anchor="middle" font-family="Liberation Sans" font-size="15.3" fill="#131722" textLength="46.4" lengthAdjust="spacingAndGlyphs">125.087</text>
<line x1="6" y1="350.5" x2="1478.6" y2="350.5" stroke="#ef5350" stroke-width="1.25" stroke-dasharray="1.25 1.85" opacity="0.9"/>
</g>
<g clip-path="url(#rp)">
<line x1="717.2" y1="653.4" x2="1393.9" y2="690" stroke="#136cd2" stroke-width="3.3" stroke-linecap="round"/>
<line x1="6" y1="668" x2="1478.6" y2="668" stroke="#bdbac6" stroke-width="1.25" stroke-dasharray="5 6.5" stroke-dashoffset="10.1" opacity="0.9"/>
<line x1="6" y1="790" x2="1478.6" y2="790" stroke="#bdbac6" stroke-width="1.25" stroke-dasharray="5 6.5" stroke-dashoffset="10.1" opacity="0.9"/>
<polyline points="9.8,697.9 19.7,734.7 29.7,721.1 39.6,718.6 49.6,702.2 59.6,715.5 69.5,721.4 79.5,718.3 89.5,726.0 99.4,724.2 109.4,721.4 119.4,711.2 129.3,743.2 139.3,739.5 149.2,736.7 159.2,719.7 169.2,720.0 179.1,754.6 189.1,763.6 199.1,768.2 209.0,779.2 219.0,772.4 229.0,766.5 238.9,787.7 248.9,795.6 258.9,800.5 268.8,809.2 278.8,813.5 288.7,806.1 298.7,811.2 308.7,771.6 318.6,759.4 328.6,755.1 338.6,754.6 348.5,767.9 358.5,779.2 368.5,763.1 378.4,766.5 388.4,759.4 398.3,765.6 408.3,799.0 418.3,806.1 428.2,780.1 438.2,766.7 448.2,767.9 458.1,773.0 468.1,781.5 478.1,777.2 488.0,772.1 498.0,775.8 508.0,779.2 517.9,781.5 527.9,758.2 537.8,758.8 547.8,744.6 557.8,760.8 567.7,748.0 577.7,756.5 587.7,760.2 597.6,766.5 607.6,742.7 617.6,743.2 627.5,734.2 637.5,743.2 647.4,748.3 657.4,756.5 667.4,759.4 677.3,756.5 687.3,775.8 697.3,770.1 707.2,757.4 717.2,723.4 727.2,723.4 737.1,725.4 747.1,720.6 757.1,706.4 767.0,693.7 777.0,682.9 786.9,665.3 796.9,664.8 806.9,658.2 816.8,694.5 826.8,700.7 836.8,701.3 846.7,703.0 856.7,713.5 866.7,710.1 876.6,694.2 886.6,701.3 896.5,682.3 906.5,695.1 916.5,698.8 926.4,705.8 936.4,731.3 946.4,755.4 956.3,757.4 966.3,733.9 976.3,739.0 986.2,714.0 996.2,709.2 1006.2,695.1 1016.1,689.4 1026.1,670.1 1036.0,677.5 1046.0,675.8 1056.0,684.6 1065.9,702.2 1075.9,687.1 1085.9,700.7 1095.8,733.3 1105.8,729.1 1115.8,725.4 1125.7,696.5 1135.7,692.2 1145.6,691.7 1155.6,700.2 1165.6,693.1 1175.5,697.2 1185.5,703.0 1195.5,707.0 1205.4,705.6 1215.4,703.0 1225.4,709.2 1235.3,703.6 1245.3,686.0 1255.2,681.5 1265.2,686.6 1275.2,690.8 1285.1,708.4 1295.1,717.2 1305.1,712.6 1315.0,739.8 1325.0,743.8 1335.0,742.4 1344.9,749.7 1354.9,742.4 1364.9,746.6 1374.8,748.0" fill="none" stroke="#9c27b0" stroke-width="1.65" stroke-linejoin="round"/>
</g>
<line x1="6" y1="32" x2="1563" y2="32" stroke="#e0e3eb" stroke-width="1.5"/>
<line x1="6" y1="32" x2="6" y2="865" stroke="#e0e3eb" stroke-width="1.5"/>
<line x1="1563" y1="32" x2="1563" y2="865" stroke="#e0e3eb" stroke-width="1.5"/>
<line x1="1478.6" y1="32" x2="1478.6" y2="865" stroke="#e0e3eb" stroke-width="1.25"/>
<line x1="6" y1="638.4" x2="1563" y2="638.4" stroke="#e0e3eb" stroke-width="1.25"/>
<line x1="6" y1="830.2" x2="1563" y2="830.2" stroke="#e0e3eb" stroke-width="1.25"/>
<line x1="1478.6" y1="70.3" x2="1484.4" y2="70.3" stroke="#e0e3eb" stroke-width="1.25"/>
<text x="1490.6" y="78.0" font-family="Liberation Sans" font-size="15.6" fill="#2a2e39" textLength="54.4" lengthAdjust="spacingAndGlyphs">127.000</text>
<line x1="1478.6" y1="122.7" x2="1484.4" y2="122.7" stroke="#e0e3eb" stroke-width="1.25"/>
<text x="1490.6" y="130.4" font-family="Liberation Sans" font-size="15.6" fill="#2a2e39" textLength="54.4" lengthAdjust="spacingAndGlyphs">126.500</text>
<line x1="1478.6" y1="175.1" x2="1484.4" y2="175.1" stroke="#e0e3eb" stroke-width="1.25"/>
<text x="1490.6" y="182.8" font-family="Liberation Sans" font-size="15.6" fill="#2a2e39" textLength="54.4" lengthAdjust="spacingAndGlyphs">126.000</text>
<line x1="1478.6" y1="227.6" x2="1484.4" y2="227.6" stroke="#e0e3eb" stroke-width="1.25"/>
<text x="1490.6" y="235.3" font-family="Liberation Sans" font-size="15.6" fill="#2a2e39" textLength="54.4" lengthAdjust="spacingAndGlyphs">125.500</text>
<line x1="1478.6" y1="279.9" x2="1484.4" y2="279.9" stroke="#e0e3eb" stroke-width="1.25"/>
<text x="1490.6" y="287.6" font-family="Liberation Sans" font-size="15.6" fill="#2a2e39" textLength="54.4" lengthAdjust="spacingAndGlyphs">125.000</text>
<line x1="1478.6" y1="332.3" x2="1484.4" y2="332.3" stroke="#e0e3eb" stroke-width="1.25"/>
<text x="1490.6" y="340.0" font-family="Liberation Sans" font-size="15.6" fill="#2a2e39" textLength="54.4" lengthAdjust="spacingAndGlyphs">124.500</text>
<line x1="1478.6" y1="385.2" x2="1484.4" y2="385.2" stroke="#e0e3eb" stroke-width="1.25"/>
<text x="1490.6" y="392.9" font-family="Liberation Sans" font-size="15.6" fill="#2a2e39" textLength="54.4" lengthAdjust="spacingAndGlyphs">124.000</text>
<line x1="1478.6" y1="438.1" x2="1484.4" y2="438.1" stroke="#e0e3eb" stroke-width="1.25"/>
<text x="1490.6" y="445.8" font-family="Liberation Sans" font-size="15.6" fill="#2a2e39" textLength="54.4" lengthAdjust="spacingAndGlyphs">123.500</text>
<line x1="1478.6" y1="490.4" x2="1484.4" y2="490.4" stroke="#e0e3eb" stroke-width="1.25"/>
<text x="1490.6" y="498.1" font-family="Liberation Sans" font-size="15.6" fill="#2a2e39" textLength="54.4" lengthAdjust="spacingAndGlyphs">123.000</text>
<line x1="1478.6" y1="542.5" x2="1484.4" y2="542.5" stroke="#e0e3eb" stroke-width="1.25"/>
<text x="1490.6" y="550.2" font-family="Liberation Sans" font-size="15.6" fill="#2a2e39" textLength="54.4" lengthAdjust="spacingAndGlyphs">122.500</text>
<line x1="1478.6" y1="595.0" x2="1484.4" y2="595.0" stroke="#e0e3eb" stroke-width="1.25"/>
<text x="1490.6" y="602.7" font-family="Liberation Sans" font-size="15.6" fill="#2a2e39" textLength="54.4" lengthAdjust="spacingAndGlyphs">122.000</text>
<line x1="1478.6" y1="698.5" x2="1484.4" y2="698.5" stroke="#e0e3eb" stroke-width="1.25"/>
<text x="1489.8" y="706.0" font-family="Liberation Sans" font-size="15.6" fill="#2a2e39" textLength="38.8" lengthAdjust="spacingAndGlyphs">60.00</text>
<line x1="1478.6" y1="759.4" x2="1484.4" y2="759.4" stroke="#e0e3eb" stroke-width="1.25"/>
<text x="1489.8" y="766.9" font-family="Liberation Sans" font-size="15.6" fill="#2a2e39" textLength="38.8" lengthAdjust="spacingAndGlyphs">40.00</text>
<line x1="1478.6" y1="820.5" x2="1484.4" y2="820.5" stroke="#e0e3eb" stroke-width="1.25"/>
<text x="1489.8" y="828.0" font-family="Liberation Sans" font-size="15.6" fill="#2a2e39" textLength="38.8" lengthAdjust="spacingAndGlyphs">20.00</text>
<rect x="1501.6" y="41.5" width="36.8" height="25" rx="5" fill="#fff" stroke="#e0e3eb" stroke-width="1.25"/>
<text x="1508" y="59.0" font-family="Liberation Sans" font-size="16.2" fill="#2a2e39" textLength="24.8" lengthAdjust="spacingAndGlyphs">JPY</text>
<rect x="1478.2" y="339.7" width="78.8" height="21.7" fill="#ef5350"/>
<line x1="1478.6" y1="350.5" x2="1483.6" y2="350.5" stroke="#fff" stroke-width="1.25"/>
<text x="1490.9" y="355.9" font-family="Liberation Sans" font-size="15.8" fill="#fff" stroke="#fff" stroke-width="0.35" textLength="53.7" lengthAdjust="spacingAndGlyphs">124.327</text>
<rect x="1479" y="363" width="78" height="21.5" fill="#ef5350"/>
<text x="1484.9" y="378.9" font-family="Liberation Sans" font-size="15.8" fill="#fff" stroke="#fff" stroke-width="0.35" textLength="59.5" lengthAdjust="spacingAndGlyphs">01:18:41</text>
<text x="99.4" y="856.9" text-anchor="middle" font-family="Liberation Sans" font-size="16" font-weight="normal" fill="#2a2e39" textLength="15.9" lengthAdjust="spacingAndGlyphs">14</text>
<text x="219.0" y="856.9" text-anchor="middle" font-family="Liberation Sans" font-size="16" font-weight="normal" fill="#2a2e39" textLength="15.9" lengthAdjust="spacingAndGlyphs">16</text>
<text x="398.3" y="856.9" text-anchor="middle" font-family="Liberation Sans" font-size="16" font-weight="normal" fill="#2a2e39" textLength="15.9" lengthAdjust="spacingAndGlyphs">21</text>
<text x="517.9" y="856.9" text-anchor="middle" font-family="Liberation Sans" font-size="16" font-weight="normal" fill="#2a2e39" textLength="15.9" lengthAdjust="spacingAndGlyphs">23</text>
<text x="697.3" y="856.9" text-anchor="middle" font-family="Liberation Sans" font-size="16" font-weight="normal" fill="#2a2e39" textLength="15.9" lengthAdjust="spacingAndGlyphs">28</text>
<text x="876.6" y="856.9" text-anchor="middle" font-family="Liberation Sans" font-size="16" font-weight="bold" fill="#2a2e39" textLength="24.6" lengthAdjust="spacingAndGlyphs">Oct</text>
<text x="996.2" y="856.9" text-anchor="middle" font-family="Liberation Sans" font-size="16" font-weight="normal" fill="#2a2e39" textLength="7.7" lengthAdjust="spacingAndGlyphs">5</text>
<text x="1115.8" y="856.9" text-anchor="middle" font-family="Liberation Sans" font-size="16" font-weight="normal" fill="#2a2e39" textLength="7.7" lengthAdjust="spacingAndGlyphs">7</text>
<text x="1295.1" y="856.9" text-anchor="middle" font-family="Liberation Sans" font-size="16" font-weight="normal" fill="#2a2e39" textLength="15.9" lengthAdjust="spacingAndGlyphs">12</text>
<text x="1414.7" y="856.9" text-anchor="middle" font-family="Liberation Sans" font-size="16" font-weight="normal" fill="#2a2e39" textLength="15.9" lengthAdjust="spacingAndGlyphs">14</text>
<text x="17.6" y="61.0" font-family="Liberation Sans" font-size="15.8" fill="#131722" textLength="26.2" lengthAdjust="spacingAndGlyphs">MA</text>
<text x="17.5" y="82.7" font-family="Liberation Sans" font-size="15.8" fill="#131722" textLength="70" lengthAdjust="spacingAndGlyphs">Pivots HL</text>
<text x="17.0" y="666.2" font-family="Liberation Sans" font-size="15.8" fill="#131722" textLength="23.6" lengthAdjust="spacingAndGlyphs">RSI</text>
<text x="6.1" y="20.6" font-family="Liberation Sans" font-size="16.3" font-weight="bold" fill="#131722" textLength="120.6" lengthAdjust="spacingAndGlyphs">FX:EURJPY, 240</text>
<text x="135.1" y="20.6" font-family="Liberation Sans" font-size="16.3" fill="#131722" textLength="60.0" lengthAdjust="spacingAndGlyphs">124.327</text>
<path d="M200,8.6 H213 L206.5,19.6 Z" fill="#ef5350"/>
<text x="218.3" y="20.6" font-family="Liberation Sans" font-size="16.3" fill="#131722" textLength="122.6" lengthAdjust="spacingAndGlyphs">−0.080 (−0.06%)</text>
<text x="348.6" y="20.6" font-family="Liberation Sans" font-size="16.3" font-weight="bold" fill="#131722" textLength="16.6" lengthAdjust="spacingAndGlyphs">O:</text>
<text x="367.7" y="20.6" font-family="Liberation Sans" font-size="16.3" fill="#ef5350" textLength="60.1" lengthAdjust="spacingAndGlyphs">124.339</text>
<text x="435.0" y="20.6" font-family="Liberation Sans" font-size="16.3" font-weight="bold" fill="#131722" textLength="15.8" lengthAdjust="spacingAndGlyphs">H:</text>
<text x="453.4" y="20.6" font-family="Liberation Sans" font-size="16.3" fill="#ef5350" textLength="60.0" lengthAdjust="spacingAndGlyphs">124.441</text>
<text x="520.3" y="20.6" font-family="Liberation Sans" font-size="16.3" font-weight="bold" fill="#131722" textLength="12.3" lengthAdjust="spacingAndGlyphs">L:</text>
<text x="535.1" y="20.6" font-family="Liberation Sans" font-size="16.3" fill="#ef5350" textLength="60.9" lengthAdjust="spacingAndGlyphs">124.260</text>
<text x="602.9" y="20.6" font-family="Liberation Sans" font-size="16.3" font-weight="bold" fill="#131722" textLength="14.0" lengthAdjust="spacingAndGlyphs">C:</text>
<text x="619.5" y="20.6" font-family="Liberation Sans" font-size="16.3" fill="#ef5350" textLength="60.6" lengthAdjust="spacingAndGlyphs">124.327</text>
</svg></body></html>
